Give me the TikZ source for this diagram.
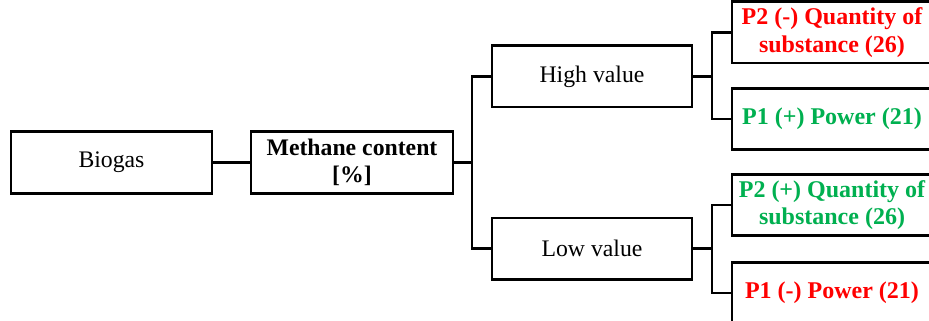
\documentclass[tikz,border=0pt]{standalone}
\usepackage{fontspec}
\setmainfont{Liberation Serif}
\definecolor{pred}{RGB}{255,0,0}
\definecolor{pgreen}{RGB}{0,176,80}
\begin{document}
\begin{tikzpicture}[x=0.75pt,y=-0.75pt,
  box/.style={draw=black,line width=2pt,fill=white,rectangle,inner sep=0pt,
    minimum height=46pt,align=center,font=\fontsize{17.8}{20}\selectfont},
  wbox/.style={box,minimum width=150pt},
  rbox/.style={box,minimum width=150pt,font=\fontsize{18}{20.5}\selectfont\bfseries},
  conn/.style={line width=2pt,line join=miter}]
\useasboundingbox (0,0) rectangle (929,321);
\clip (0,0) rectangle (929,321);
\node[wbox,minimum width=150.75pt] (bio) at (111.5,162.5) {Biogas};
\node[wbox,minimum width=151.5pt,font=\fontsize{17.8}{20}\selectfont\bfseries] (meth) at (352,162.5) {Methane content\\\relax [\%]};
\node[wbox] (high) at (592,76.5) {High value};
\node[wbox] (low) at (592,248.5) {Low value};
\node[rbox,text=pred] (p2m) at (832,32.5) {P2 (-) Quantity of\\substance (26)};
\node[rbox,text=pgreen] (p1p) at (832,119) {P1 (+) Power (21)};
\node[rbox,text=pgreen] (p2p) at (832,205) {P2 (+) Quantity of\\substance (26)};
\node[rbox,text=pred] (p1m) at (832,293) {P1 (-) Power (21)};
\coordinate (j1) at (472,162.5);
\coordinate (j2) at (712,76.5);
\coordinate (j3) at (712,248.5);
\draw[conn] (bio.east) -- (meth.west);
\draw[conn] (meth.east) -- (j1);
\draw[conn] (high.west) -| (j1) |- (low.west);
\draw[conn] (high.east) -- (j2);
\draw[conn] (p2m.west) -| (j2) |- (p1p.west);
\draw[conn] (low.east) -- (j3);
\draw[conn] (p2p.west) -| (j3) |- (p1m.west);
\end{tikzpicture}
\end{document}
